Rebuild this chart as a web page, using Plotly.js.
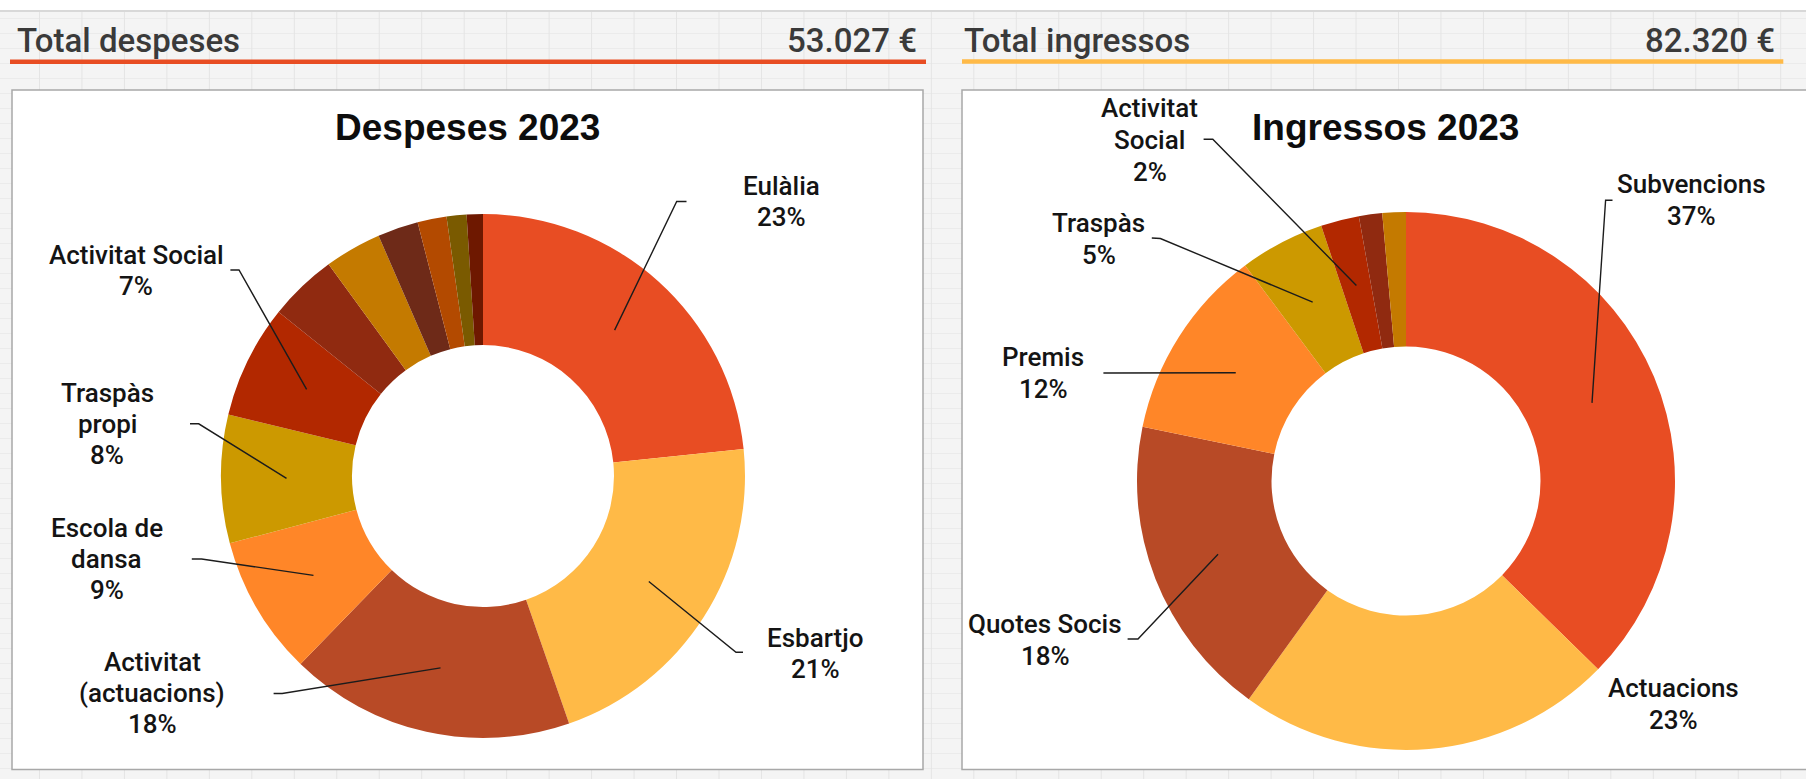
<!DOCTYPE html>
<html>
<head>
<meta charset="utf-8">
<script src="https://cdn.plot.ly/plotly-3.0.1.min.js"></script>
<style>
html,body{margin:0;padding:0;}
body{width:1806px;height:779px;overflow:hidden;background:#ffffff;position:relative;}
#bg{position:absolute;left:0;top:10px;width:1806px;height:769px;background-color:#f4f4f4;
 background-image:linear-gradient(to right,#e4e4e4 1px,transparent 1px),linear-gradient(to bottom,#ebebeb 1px,transparent 1px);
 background-size:42.47px 100%,100% 15px;background-position:39px 0,0 6px;border-top:2px solid #d8d8d8;}
#chart{position:absolute;left:0;top:0;width:1806px;height:779px;}
</style>
</head>
<body>
<div id="bg"></div>
<div id="chart"></div>
<script>
// ---------- DATA ----------
const despesesCategories = ['Eulàlia','Esbartjo','Activitat|(actuacions)','Escola de|dansa','Traspàs|propi','Activitat Social',
  'Altres despeses 1','Altres despeses 2','Altres despeses 3','Altres despeses 4','Altres despeses 5','Altres despeses 6'];
const despesesValues = [12387, 11300, 9330, 4560, 4190, 3710, 2230, 1860, 1330, 950, 650, 530];

const ingressosCategories = ['Subvencions','Actuacions','Quotes Socis','Premis','Traspàs','Activitat|Social',
  'Altres ingressos 1','Altres ingressos 2'];
const ingressosValues = [30740, 18600, 15060, 9520, 4200, 1890, 1150, 1160];

const chartTitles = ['Despeses 2023', 'Ingressos 2023'];
const headerLabels = ['Total despeses', 'Total ingressos'];

// ---------- STYLES ----------
const despesesColors = ['#E84D23','#FFBA47','#B84A26','#FF8628','#CC9900','#B22800','#902A10','#C47A00','#6E2A18','#B34A00','#7A5A00','#6E1800'];
const ingressosColors = ['#E84D23','#FFBA47','#B84A26','#FF8628','#CC9900','#B22800','#902A10','#C47A00'];

// ---------- LAYOUT GEOMETRY (pixels) ----------
const W = 1806, H = 779;
const FONT = 'Roboto, Liberation Sans, Arial, sans-serif';
const TFONT = 'Liberation Sans, Arial, sans-serif';
const LABEL_SIZE = 26;
const pieGeo = [
  {cx:483, cy:476, r:262, hole:0.5, gap:31.3},
  {cx:1406, cy:481, r:269, hole:0.5, gap:32.4}
];
// label placement: x center, y of first line center, leader stub [x0,y0,x1,y1] (null = no leader)
const despesesLabelPos = [
  {x:781, y:186, lead:[686.5,201.5,676.7,201.5]},
  {x:815, y:638, lead:[743,652.3,736,652.3]},
  {x:152, y:661.5, lead:[273.6,693.5,282.2,693.5]},
  {x:106.6, y:527.8, lead:[191.8,559,201.6,559]},
  {x:107, y:392.5, lead:[190,423.8,198.7,423.8]},
  {x:136, y:255, lead:[230.4,270,239,270]}
];
const ingressosLabelPos = [
  {x:1691.4, y:183.7, lead:[1612.5,200.2,1605.6,200.2]},
  {x:1673.8, y:687.7, lead:null},
  {x:1045, y:624, lead:[1127.6,639,1138,639]},
  {x:1043.2, y:357, lead:[1103.4,373,1110,373]},
  {x:1098.8, y:222.5, lead:[1151.8,238,1160.4,238.5]},
  {x:1149.5, y:107.6, lead:[1203.6,139.2,1212.8,139.2]}
];

const px = x => x / W;
const py = y => 1 - y / H;
const sum = a => a.reduce((s, v) => s + v, 0);
const fmtEuro = n => String(Math.round(n)).replace(/\B(?=(\d{3})+(?!\d))/g, '.') + ' €';

function pieTrace(cats, vals, colors, g) {
  return {
    type:'pie', labels:cats.map(c => c.replace('|',' ')), values:vals,
    sort:false, direction:'clockwise', rotation:0, hole:g.hole,
    textinfo:'none', hoverinfo:'label+percent', showlegend:false,
    marker:{colors:colors, line:{width:0}},
    domain:{x:[px(g.cx - g.r), px(g.cx + g.r)], y:[py(g.cy + g.r), py(g.cy - g.r)]}
  };
}

const annotations = [];
const shapes = [];

function addText(text, x, y, font, opts) {
  annotations.push(Object.assign({
    text:text, x:px(x), y:py(y), xref:'paper', yref:'paper', showarrow:false,
    xanchor:'center', yanchor:'middle', font:font
  }, opts || {}));
}

function addLabels(cats, vals, g, pos) {
  const total = sum(vals);
  let cum = 0;
  const mids = vals.map(v => { const m = (cum + v / 2) / total; cum += v; return m; });
  const lf = {family:FONT, size:LABEL_SIZE, color:'#141414', weight:500};
  pos.forEach((p, i) => {
    const lines = cats[i].split('|').concat([Math.round(vals[i] / total * 100) + '%']);
    lines.forEach((ln, k) => addText(ln, p.x, p.y + k * g.gap, lf));
    if (p.lead) {
      const th = mids[i] * 2 * Math.PI;
      const rr = g.r * (1 + g.hole) / 2;
      const tx = g.cx + rr * Math.sin(th), ty = g.cy - rr * Math.cos(th);
      const l = p.lead;
      shapes.push({type:'path', xref:'paper', yref:'paper', layer:'above',
        path:`M ${px(l[0])} ${py(l[1])} L ${px(l[2])} ${py(l[3])} L ${px(tx)} ${py(ty)}`,
        line:{color:'#1c1c1c', width:1.4}});
    }
  });
}

// Panel boxes and header underlines
shapes.push({type:'rect', xref:'paper', yref:'paper', layer:'below',
  x0:px(12), x1:px(923), y0:py(90), y1:py(769.5), fillcolor:'#ffffff', line:{color:'#a8a8a8', width:1.5}});
shapes.push({type:'rect', xref:'paper', yref:'paper', layer:'below',
  x0:px(962), x1:px(1830), y0:py(90), y1:py(769.5), fillcolor:'#ffffff', line:{color:'#a8a8a8', width:1.5}});
shapes.push({type:'rect', xref:'paper', yref:'paper', layer:'below',
  x0:px(10), x1:px(926), y0:py(64), y1:py(59.5), fillcolor:'#E84D23', line:{width:0}});
shapes.push({type:'rect', xref:'paper', yref:'paper', layer:'below',
  x0:px(962), x1:px(1783.3), y0:py(63.7), y1:py(59.3), fillcolor:'#FFBA47', line:{width:0}});

// Header texts
const hdrFont = {family:FONT, size:33, color:'#3a3a3a', weight:500};
addText(headerLabels[0], 15, 41, hdrFont, {xanchor:'left'});
addText(fmtEuro(sum(despesesValues)), 919, 41, hdrFont, {xanchor:'right'});
addText(headerLabels[1], 962, 41, hdrFont, {xanchor:'left'});
addText(fmtEuro(sum(ingressosValues)), 1777, 41, hdrFont, {xanchor:'right'});

// Chart titles
const ttlFont = {family:TFONT, size:37, color:'#0d0d0d', weight:'bold'};
addText('<b>' + chartTitles[0] + '</b>', 467, 128, ttlFont);
addText('<b>' + chartTitles[1] + '</b>', 1385, 128, ttlFont);

addLabels(despesesCategories, despesesValues, pieGeo[0], despesesLabelPos);
addLabels(ingressosCategories, ingressosValues, pieGeo[1], ingressosLabelPos);

const data = [
  pieTrace(despesesCategories, despesesValues, despesesColors, pieGeo[0]),
  pieTrace(ingressosCategories, ingressosValues, ingressosColors, pieGeo[1])
];

const layout = {
  width:W, height:H, margin:{l:0, r:0, t:0, b:0},
  paper_bgcolor:'rgba(0,0,0,0)', plot_bgcolor:'rgba(0,0,0,0)',
  showlegend:false, annotations:annotations, shapes:shapes
};

Plotly.newPlot('chart', data, layout, {staticPlot:true, displayModeBar:false});
</script>
</body>
</html>
